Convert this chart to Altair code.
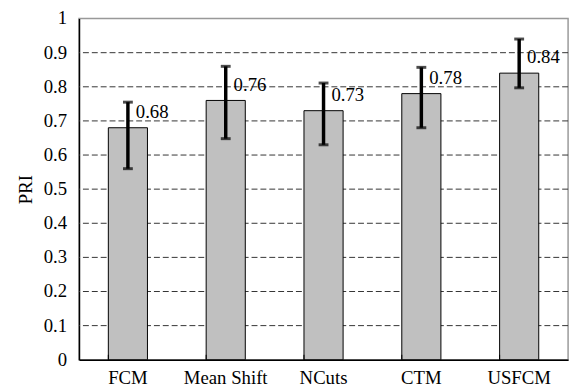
import altair as alt
import pandas as pd

categories = ["FCM", "Mean Shift", "NCuts", "CTM", "USFCM"]
pri = [0.68, 0.76, 0.73, 0.78, 0.84]
err_low = [0.56, 0.648, 0.63, 0.68, 0.797]
err_high = [0.755, 0.86, 0.811, 0.857, 0.94]
labels = ["0.68", "0.76", "0.73", "0.78", "0.84"]
y_ticks = [0, 0.1, 0.2, 0.3, 0.4, 0.5, 0.6, 0.7, 0.8, 0.9, 1.0]
y_tick_labels = ["0", "0.1", "0.2", "0.3", "0.4", "0.5", "0.6", "0.7", "0.8", "0.9", "1"]
grid_vals = [0.1, 0.2, 0.3, 0.4, 0.5, 0.6, 0.7, 0.8, 0.9]

df = pd.DataFrame({"cat": categories, "pri": pri, "lo": err_low,
                   "hi": err_high, "lab": labels})
gdf = pd.DataFrame({"g": grid_vals})
tdf = pd.DataFrame({"t": y_ticks, "tl": y_tick_labels})

FONT = "Liberation Serif"
W, H = 496, 346

xscale = alt.Scale(domain=categories, paddingInner=0.6, paddingOuter=0.3)
yscale = alt.Scale(domain=[0, 1], nice=False)

yaxis = alt.Axis(title="PRI", titleFont=FONT, titleFontSize=19,
                 titleFontWeight="normal", titleColor="black", titlePadding=44,
                 labels=False, ticks=False,
                 domainColor="black", domainWidth=1.5, grid=False)

xaxis = alt.Axis(title=None, labelAngle=0, labelFont=FONT, labelFontSize=19,
                 labelColor="black", ticks=False, domainColor="black",
                 domainWidth=1.5, labelPadding=9)


def X(**kw):
    return alt.X("cat:N", sort=categories, scale=xscale, axis=xaxis, **kw)


def Y(field):
    return alt.Y(field, scale=yscale, axis=yaxis)


grid = alt.Chart(gdf).mark_rule(color="#333333", strokeWidth=1, strokeDash=[6, 3]).encode(
    y=Y("g:Q"))

ylabels = alt.Chart(tdf).mark_text(font=FONT, fontSize=19, color="black", align="right",
                                   baseline="middle").encode(
    y=Y("t:Q"), x=alt.value(-12), text="tl:N")

base = alt.Chart(df)

bars = base.mark_bar(color="#c0c0c0", stroke="black", strokeWidth=1).encode(
    x=X(), y=Y("pri:Q"))

tickmarks = base.mark_rule(color="black", strokeWidth=1).encode(
    x=X(bandPosition=0), y=alt.value(H), y2=alt.value(H - 5))

err = base.mark_rule(color="black", strokeWidth=3.5).encode(
    x=X(), y=Y("lo:Q"), y2="hi:Q")
cap_lo = base.mark_tick(color="black", thickness=3, size=10, orient="horizontal").encode(
    x=X(), y=Y("lo:Q"))
cap_hi = base.mark_tick(color="black", thickness=3, size=10, orient="horizontal").encode(
    x=X(), y=Y("hi:Q"))

text = base.mark_text(font=FONT, fontSize=19, color="black", align="left",
                      baseline="middle", dx=8, dy=-16).encode(
    x=X(), y=Y("pri:Q"), text="lab:N")

chart = alt.layer(grid, ylabels, bars, tickmarks, err, cap_lo, cap_hi, text).properties(
    width=W, height=H,
    autosize=alt.AutoSizeParams(type="none"),
    padding={"left": 72, "top": 8, "right": 6, "bottom": 30},
    background="white",
).configure_view(stroke="#999999", strokeWidth=1.5)

chart.save("out.html", embed_options={"renderer": "svg", "actions": False})
